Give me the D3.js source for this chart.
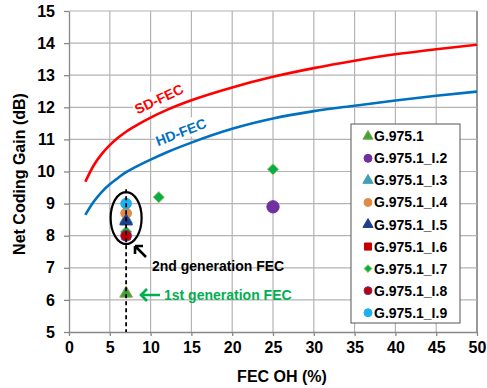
<!DOCTYPE html>
<html>
<head>
<meta charset="utf-8">
<script src="https://cdn.jsdelivr.net/npm/d3@7"></script>
<style>
  body { margin: 0; background: #fff; }
  svg text { font-family: "Liberation Sans", Arial, sans-serif; }
</style>
</head>
<body>
<div id="app"></div>
<script>
// curves (FEC OH %, NCG dB)
const curveX = [2, 3, 4, 5, 6, 7, 8, 10, 12, 15, 20, 25, 30, 35, 40, 45, 50];
const sdFec  = [9.68, 10.18, 10.54, 10.82, 11.05, 11.24, 11.4, 11.68, 11.92, 12.22, 12.62, 12.95, 13.22, 13.45, 13.65, 13.81, 13.95];
const hdFec  = [8.65, 9.05, 9.36, 9.6, 9.8, 9.98, 10.12, 10.37, 10.6, 10.9, 11.33, 11.65, 11.88, 12.05, 12.21, 12.36, 12.49];

// standards
const seriesNames = ["G.975.1", "G.975.1_I.2", "G.975.1_I.3", "G.975.1_I.4", "G.975.1_I.5",
                     "G.975.1_I.6", "G.975.1_I.7", "G.975.1_I.8", "G.975.1_I.9"];
const seriesX = [[7], [25], [7], [7], [7], [7], [7, 11, 25], [7], [7]];
const seriesY = [[6.2], [8.9], [8.5], [8.7], [8.45], [8.0], [8.12, 9.2, 10.07], [8.0], [9.0]];
const seriesShape = ["triangle", "circle", "triangle", "circle", "triangle", "square", "diamond", "circle", "circle"];
const seriesFill   = ["#3aa63a", "#7030a0", "#3f9fb5", "#e08a45", "#1f3f8c", "#c00000", "#00b050", "#c00000", "#1cb0ee"];
const seriesStroke = ["#8aa34a", "#7030a0", "#3f9fb5", "#e08a45", "#1f3f8c", "#c00000", "#b5c24a", "#7030a0", "#1cb0ee"];

const xTicks = [0, 5, 10, 15, 20, 25, 30, 35, 40, 45, 50];
const yTicks = [5, 6, 7, 8, 9, 10, 11, 12, 13, 14, 15];

const W = 487, H = 388;
const m = { t: 11, r: 10, b: 56, l: 69 };

const svg = d3.select("#app").append("svg").attr("width", W).attr("height", H);

const x = d3.scaleLinear().domain([0, 50]).range([m.l, W - m.r]);
const y = d3.scaleLinear().domain([5, 15]).range([H - m.b, m.t]);

// grid
svg.append("g").selectAll("line").data(xTicks.slice(1)).enter().append("line")
    .attr("x1", d => x(d)).attr("x2", d => x(d))
    .attr("y1", y(5)).attr("y2", y(15))
    .attr("stroke", (d) => d == 50 ? "#555" : "#b4b4b4").attr("stroke-width", 1.2);
svg.append("g").selectAll("line").data(yTicks.slice(1)).enter().append("line")
    .attr("x1", x(0)).attr("x2", x(50))
    .attr("y1", d => y(d)).attr("y2", d => y(d))
    .attr("stroke", "#b4b4b4").attr("stroke-width", 1.2);

// axes
const xAxis = svg.append("g")
    .attr("transform", "translate(0," + y(5) + ")")
    .call(d3.axisBottom(x).tickValues(xTicks).tickSize(4).tickSizeOuter(0).tickPadding(6));
const yAxis = svg.append("g")
    .attr("transform", "translate(" + x(0) + ",0)")
    .call(d3.axisLeft(y).tickValues(yTicks).tickSize(5).tickSizeOuter(0).tickPadding(9));
[xAxis, yAxis].forEach(a => {
    a.select(".domain").attr("stroke", "#888").attr("stroke-width", 1.3);
    a.selectAll(".tick line").attr("stroke", "#888").attr("stroke-width", 1.3);
    a.selectAll(".tick text").attr("font-size", "16px").attr("font-weight", "bold")
        .attr("fill", "#000").attr("font-family", "Liberation Sans, Arial, sans-serif");
});

svg.append("text").attr("x", 282).attr("y", 382).attr("text-anchor", "middle")
    .attr("font-size", "16px").attr("font-weight", "bold").text("FEC OH (%)");
svg.append("text").attr("transform", "translate(25,174) rotate(-90)").attr("text-anchor", "middle")
    .attr("font-size", "16px").attr("font-weight", "bold").text("Net Coding Gain (dB)");

// curves
const line = d3.line().x(d => x(d[0])).y(d => y(d[1])).curve(d3.curveMonotoneX);
svg.append("path").datum(d3.zip(curveX, sdFec)).attr("d", line)
    .attr("fill", "none").attr("stroke", "#ff0000").attr("stroke-width", 2.6);
svg.append("path").datum(d3.zip(curveX, hdFec)).attr("d", line)
    .attr("fill", "none").attr("stroke", "#0070c0").attr("stroke-width", 2.6);

// curve labels
function curveLabel(txt, cx, cy, ang, col) {
    const g = svg.append("g").attr("transform", "translate(" + cx + "," + cy + ") rotate(" + ang + ")");
    g.append("rect").attr("x", -27).attr("y", -10).attr("width", 54).attr("height", 18).attr("fill", "#fff");
    g.append("text").attr("text-anchor", "middle").attr("y", 5)
        .attr("font-family", "Lato, sans-serif").attr("font-weight", "bold").attr("font-size", "14px")
        .attr("fill", col).text(txt);
}
curveLabel("SD-FEC", 159, 99, -25, "#ff0000");
curveLabel("HD-FEC", 181, 132, -21, "#0070c0");

// markers
function sym(shape, size) {
    const t = { triangle: d3.symbolTriangle, circle: d3.symbolCircle, square: d3.symbolSquare, diamond: d3.symbolDiamond2 }[shape];
    return d3.symbol().type(t).size(size)();
}
const chartSize = { triangle: 70, circle: 90, square: 70, diamond: 80 };
seriesNames.forEach((name, i) => {
    const pts = d3.zip(seriesX[i], seriesY[i]);
    svg.append("g").selectAll("path").data(pts).enter().append("path")
        .attr("transform", d => "translate(" + x(d[0]) + "," + y(d[1]) + ")")
        .attr("d", sym(seriesShape[i], name == "G.975.1_I.2" ? 120 : chartSize[seriesShape[i]]))
        .attr("fill", seriesFill[i]).attr("stroke", seriesStroke[i]).attr("stroke-width", 1);
});

// dashed line + ellipse
svg.append("line").attr("x1", x(7)).attr("x2", x(7)).attr("y1", y(9.45)).attr("y2", y(5))
    .attr("stroke", "#000").attr("stroke-width", 1.8).attr("stroke-dasharray", "4,3");
svg.append("ellipse").attr("cx", x(7)).attr("cy", y(8.55)).attr("rx", 15.5).attr("ry", 26)
    .attr("fill", "none").attr("stroke", "#000").attr("stroke-width", 2.2);

// annotations
svg.append("path").attr("d", "M146,257 L135,246 M135,246 L135,254 M135,246 L143,246")
    .attr("stroke", "#000").attr("stroke-width", 2.6).attr("fill", "none");
svg.append("text").attr("x", 152).attr("y", 271)
    .attr("font-family", "Lato, sans-serif").attr("font-weight", "bold").attr("font-size", "14px")
    .attr("fill", "#000").text("2nd generation FEC");
svg.append("path").attr("d", "M160,295 L141,295 M147,289 L141,295 L147,301")
    .attr("stroke", "#00b050").attr("stroke-width", 2.6).attr("fill", "none");
svg.append("text").attr("x", 164).attr("y", 300)
    .attr("font-family", "Lato, sans-serif").attr("font-weight", "bold").attr("font-size", "14px")
    .attr("fill", "#00b050").text("1st generation FEC");

// legend
const leg = svg.append("g");
leg.append("rect").attr("x", 351).attr("y", 124).attr("width", 109).attr("height", 199)
    .attr("fill", "#fff").attr("stroke", "#555").attr("stroke-width", 1);
const legSize = { triangle: 45, circle: 50, square: 50, diamond: 40 };
seriesNames.forEach((name, i) => {
    const cy = 136.3 + i * 22.05;
    leg.append("path").attr("transform", "translate(368," + cy + ")")
        .attr("d", sym(seriesShape[i], legSize[seriesShape[i]]))
        .attr("fill", seriesFill[i]).attr("stroke", seriesStroke[i]).attr("stroke-width", 1);
    leg.append("text").attr("x", 374).attr("y", cy + 5).attr("font-size", "14px").attr("font-weight", "bold")
        .text(name);
});
</script>
</body>
</html>
